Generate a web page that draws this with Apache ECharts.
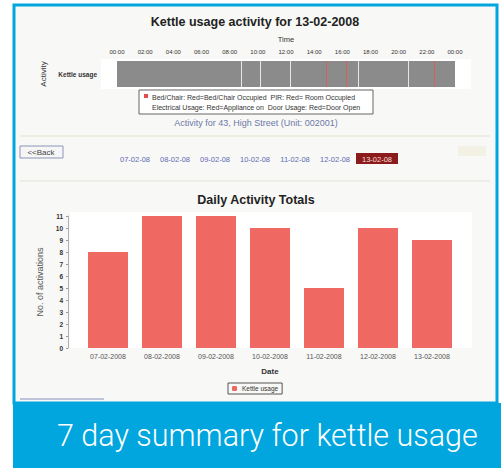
<!DOCTYPE html>
<html>
<head>
<meta charset="utf-8">
<script src="https://cdn.jsdelivr.net/npm/echarts@6/dist/echarts.min.js"></script>
<style>
  html, body { margin: 0; padding: 0; background: #fff; }
  #main { width: 501px; height: 468px; }
</style>
</head>
<body>
<div id="main"></div>
<script>
// timeline for the selected day (hours after midnight)
var dayLabel = '13-02-2008';
var activityRows = ['Kettle usage'];
var dayLength = [24];
var eventHours = [8.8, 10.2, 12.3, 14.85, 16.3, 17.1, 20.7, 22.5];
var eventKinds = ['idle', 'idle', 'idle', 'on', 'on', 'idle', 'idle', 'on'];

// daily totals
var dates = ['07-02-2008', '08-02-2008', '09-02-2008', '10-02-2008', '11-02-2008', '12-02-2008', '13-02-2008'];
var activations = [8, 11, 11, 10, 5, 10, 9];

// day links under the back button
var dayLinks = ['07-02-08', '08-02-08', '09-02-08', '10-02-08', '11-02-08', '12-02-08', '13-02-08'];

var FONT = '"Liberation Sans", Arial, sans-serif';
var blue = '#00a6dd';

function pad(n) { return (n < 10 ? '0' : '') + n; }

var chart = echarts.init(document.getElementById('main'), null, { renderer: 'svg' });

/* graphic bits: frame, plot backgrounds, nav, legend, caption */
var graphics = [
  { type: 'rect', z: -20, shape: { x: 13, y: 5, width: 484, height: 398 }, style: { fill: '#f8f8f6' } },
  { type: 'rect', z: -10, shape: { x: 101, y: 59, width: 370, height: 30 }, style: { fill: '#fff' } },
  { type: 'rect', z: -10, shape: { x: 70, y: 212, width: 402, height: 136 }, style: { fill: '#fff' } },
  { type: 'line', shape: { x1: 20, y1: 136, x2: 490, y2: 136 }, style: { stroke: '#e2e4cf', lineWidth: 1 } },
  { type: 'line', shape: { x1: 20, y1: 181, x2: 490, y2: 181 }, style: { stroke: '#dfe3d8', lineWidth: 1 } },
  { type: 'line', shape: { x1: 20, y1: 399, x2: 104, y2: 399 }, style: { stroke: '#8890c0', lineWidth: 1 } },
  // titles
  { type: 'text', x: 255, y: 22, style: { text: 'Kettle usage activity for ' + dayLabel, fill: '#222', font: 'bold 12.5px ' + FONT, textAlign: 'center', textVerticalAlign: 'middle' } },
  { type: 'text', x: 256, y: 200, style: { text: 'Daily Activity Totals', fill: '#222', font: 'bold 12.5px ' + FONT, textAlign: 'center', textVerticalAlign: 'middle' } },
  { type: 'text', x: 256, y: 123, style: { text: 'Activity for 43, High Street (Unit: 002001)', fill: '#6d78a8', font: '9px ' + FONT, textAlign: 'center', textVerticalAlign: 'middle' } },
  // top legend box
  { type: 'rect', shape: { x: 139, y: 90, width: 234, height: 24 }, style: { fill: '#fff', stroke: '#666', lineWidth: 1 } },
  { type: 'rect', shape: { x: 144, y: 94, width: 4, height: 4 }, style: { fill: '#e84a4a' } },
  { type: 'text', x: 152, y: 97, style: { text: 'Bed/Chair: Red=Bed/Chair Occupied  PIR: Red= Room Occupied', fill: '#333', font: '7px ' + FONT, textVerticalAlign: 'middle' } },
  { type: 'text', x: 152, y: 107, style: { text: 'Electrical Usage: Red=Appliance on  Door Usage: Red=Door Open', fill: '#333', font: '7px ' + FONT, textVerticalAlign: 'middle' } },
  // back button
  { type: 'rect', shape: { x: 20, y: 146, width: 43, height: 12 }, style: { fill: '#f6f6f6', stroke: '#8a96b8', lineWidth: 1 } },
  { type: 'text', x: 41, y: 152, style: { text: '<<Back', fill: '#444', font: '8px ' + FONT, textAlign: 'center', textVerticalAlign: 'middle' } },
  { type: 'rect', shape: { x: 458, y: 146, width: 28, height: 10 }, style: { fill: '#f3f1e4' } },
  // caption band
  { type: 'rect', z: 50, shape: { x: 13, y: 403, width: 488, height: 65 }, style: { fill: blue } },
  { type: 'rect', z: 50, shape: { x: 14, y: 5, width: 483, height: 398 }, style: { fill: 'none', stroke: blue, lineWidth: 3 } },
  { type: 'text', z: 51, x: 57, y: 435, style: { text: '7 day summary for kettle usage', fill: '#fff', font: '300 30.5px Roboto, ' + FONT, textVerticalAlign: 'middle' } }
];

dayLinks.forEach(function (d, i) {
  var cx = 135 + i * 40;
  var last = i === dayLinks.length - 1;
  if (last) {
    graphics.push({ type: 'rect', shape: { x: cx - 19, y: 153, width: 42, height: 11 }, style: { fill: '#8c1c1c' } });
  }
  graphics.push({ type: 'text', x: last ? cx + 2 : cx, y: 159, style: { text: d, fill: last ? '#f4dede' : '#5e6ab4', font: '7.5px ' + FONT, textAlign: 'center', textVerticalAlign: 'middle' } });
});

var option = {
  animation: false,
  backgroundColor: '#fff',
  textStyle: { fontFamily: FONT },
  grid: [
    { left: 117, right: 46, top: 61, height: 26 },
    { left: 81, right: 42, top: 216, bottom: 120 }
  ],
  xAxis: [
    {
      gridIndex: 0, type: 'value', position: 'top', min: 0, max: 24, interval: 2,
      name: 'Time', nameLocation: 'middle', nameGap: 18,
      nameTextStyle: { fontSize: 7.5, color: '#333' },
      axisLine: { show: false }, axisTick: { show: false }, splitLine: { show: false },
      axisLabel: { fontSize: 6, color: '#333', margin: 6, formatter: function (v) { return pad(v % 24) + ':00'; } }
    },
    {
      gridIndex: 1, type: 'category', data: dates,
      name: 'Date', nameLocation: 'middle', nameGap: 19,
      nameTextStyle: { fontSize: 8, fontWeight: 'bold', color: '#333' },
      axisLine: { show: false }, axisTick: { show: false },
      axisLabel: { fontSize: 7, color: '#555', margin: 5 }
    }
  ],
  yAxis: [
    {
      gridIndex: 0, type: 'category', data: activityRows,
      name: 'Activity', nameLocation: 'middle', nameGap: 63, nameRotate: 90,
      nameTextStyle: { fontSize: 8, color: '#333' },
      axisLine: { show: false }, axisTick: { show: false },
      axisLabel: { fontSize: 6.5, fontWeight: 'bold', color: '#333', margin: 20 }
    },
    {
      gridIndex: 1, type: 'value', min: 0, max: 11, interval: 1, offset: 13,
      name: 'No. of activations', nameLocation: 'middle', nameGap: 18, nameRotate: 90,
      nameTextStyle: { fontSize: 9, color: '#555' },
      axisLine: { show: true, lineStyle: { color: '#b0b0b0' } },
      axisTick: { show: true, length: 2, lineStyle: { color: '#999' } },
      splitLine: { show: false },
      axisLabel: { fontSize: 6.5, fontWeight: 'bold', color: '#333', margin: 5 }
    }
  ],
  legend: {
    data: ['Kettle usage'], left: 228, top: 383,
    borderColor: '#555', borderWidth: 1, padding: [2, 4], borderRadius: 0,
    itemWidth: 5, itemHeight: 5, itemGap: 4,
    textStyle: { fontSize: 6.5, color: '#333' }
  },
  graphic: graphics,
  series: [
    {
      name: 'Timeline', type: 'bar', xAxisIndex: 0, yAxisIndex: 0,
      data: dayLength, barWidth: 26, silent: true,
      itemStyle: { color: '#8b8b8b' },
      markLine: {
        silent: true, symbol: ['none', 'none'], label: { show: false },
        data: eventHours.map(function (h, i) {
          return { xAxis: h, lineStyle: { type: 'solid', width: 1, color: eventKinds[i] === 'on' ? '#d8605c' : '#e6e6e6' } };
        })
      }
    },
    {
      name: 'Kettle usage', type: 'bar', xAxisIndex: 1, yAxisIndex: 1,
      data: activations, barWidth: 40,
      itemStyle: { color: '#ef6962' }
    }
  ]
};

chart.setOption(option);
window.onresize = chart.resize;
</script>
</body>
</html>
